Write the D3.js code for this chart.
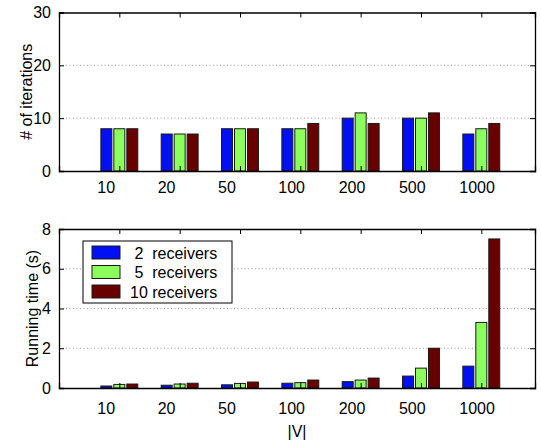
<!DOCTYPE html>
<html>
<head>
<meta charset="utf-8">
<script src="https://cdn.jsdelivr.net/npm/d3@7"></script>
<style>
  body { margin: 0; background: #fff; }
  svg { display: block; font-family: "Liberation Sans", Arial, sans-serif; }
</style>
</head>
<body>
<div id="chart"></div>
<script>
/* global d3 */

// |V| categories
const sizes = ["10", "20", "50", "100", "200", "500", "1000"];
const seriesNames = [" 2  receivers", " 5  receivers", "10 receivers"];

// # of iterations per receiver count
const iter2 = [8, 7, 8, 8, 10, 10, 7];
const iter5 = [8, 7, 8, 8, 11, 10, 8];
const iter10 = [8, 7, 8, 9, 9, 11, 9];

// running time (s) per receiver count
const time2 = [0.1, 0.14, 0.16, 0.24, 0.32, 0.6, 1.1];
const time5 = [0.18, 0.2, 0.23, 0.27, 0.4, 1.0, 3.3];
const time10 = [0.2, 0.24, 0.3, 0.4, 0.5, 2.0, 7.5];

const iterTicks = [0, 10, 20, 30];
const timeTicks = [0, 2, 4, 6, 8];

const colors = ["#0010f2", "#8cff5c", "#680000"];

const W = 541, H = 441;
const svg = d3.select("#chart").append("svg")
  .attr("width", W).attr("height", H);

function drawPanel(opts) {
  const { top, bottom, series, yTicks, yMax, yLabel, yLabelX, xLabelDy } = opts;
  const left = 59, right = 535;

  const x = d3.scaleLinear().domain([0, 7.89]).range([left, right]);
  const y = d3.scaleLinear().domain([0, yMax]).range([bottom, top]);
  const step = x(1) - x(0);
  const offset = 0.215, barW = 0.182;

  const g = svg.append("g");

  // dotted grid
  g.append("g").selectAll("line")
    .data(yTicks.filter(t => t > 0 && t < yMax))
    .join("line")
    .attr("x1", left).attr("x2", right)
    .attr("y1", d => y(d)).attr("y2", d => y(d))
    .attr("stroke", "#9a9a9a")
    .attr("stroke-width", 1)
    .attr("stroke-dasharray", "1,2.5");

  // bars
  series.forEach((vals, s) => {
    g.append("g").selectAll("rect")
      .data(vals)
      .join("rect")
      .attr("x", (d, i) => x(i + 1 + (s - 1) * offset - barW / 2))
      .attr("width", barW * step)
      .attr("y", d => y(d))
      .attr("height", d => y(0) - y(d))
      .attr("fill", colors[s])
      .attr("stroke", "#1a1a1a")
      .attr("stroke-width", 1);
  });

  // axes (ticks inward, on all four sides)
  const xTickVals = d3.range(1, sizes.length + 1);
  g.append("g")
    .attr("transform", `translate(0,${bottom})`)
    .call(d3.axisBottom(x).tickValues(xTickVals).tickSize(-5).tickFormat(""));
  g.append("g")
    .attr("transform", `translate(0,${top})`)
    .call(d3.axisTop(x).tickValues(xTickVals).tickSize(-5).tickFormat(""));
  g.append("g")
    .attr("transform", `translate(${left},0)`)
    .call(d3.axisLeft(y).tickValues(yTicks).tickSize(-5).tickPadding(8));
  g.append("g")
    .attr("transform", `translate(${right},0)`)
    .call(d3.axisRight(y).tickValues(yTicks).tickSize(-5).tickFormat(""));

  g.selectAll(".domain").attr("stroke", "#000").attr("stroke-width", 1.3);
  g.selectAll(".tick line").attr("stroke", "#000").attr("stroke-width", 1);
  g.selectAll(".tick text")
    .attr("fill", "#000")
    .style("font-size", "16px")
    .style("font-family", "'Liberation Sans', Arial, sans-serif");

  // category labels (left-aligned, shifted as in the original)
  g.append("g").selectAll("text")
    .data(sizes)
    .join("text")
    .attr("x", (d, i) => x(i + 1) - 22)
    .attr("y", bottom + xLabelDy)
    .attr("font-size", 16)
    .attr("fill", "#000")
    .text(d => d);

  // y label
  g.append("text")
    .attr("transform", `translate(${yLabelX},${(top + bottom) / 2}) rotate(-90)`)
    .attr("text-anchor", "middle")
    .attr("font-size", 16)
    .attr("fill", "#000")
    .text(yLabel);

  return { x, y };
}

drawPanel({
  top: 12.5, bottom: 171, yMax: 30,
  series: [iter2, iter5, iter10],
  yTicks: iterTicks,
  yLabel: "# of iterations",
  yLabelX: 32,
  xLabelDy: 22
});

drawPanel({
  top: 229, bottom: 388, yMax: 8,
  series: [time2, time5, time10],
  yTicks: timeTicks,
  yLabel: "Running time (s)",
  yLabelX: 38,
  xLabelDy: 26
});

// x label
svg.append("text")
  .attr("x", 297)
  .attr("y", 437)
  .attr("text-anchor", "middle")
  .attr("font-size", 16)
  .text("|V|");

// legend
const legend = svg.append("g").attr("transform", "translate(83,241)");
legend.append("rect")
  .attr("width", 149).attr("height", 62)
  .attr("fill", "#fff").attr("stroke", "#000").attr("stroke-width", 1);
seriesNames.forEach((name, i) => {
  const row = legend.append("g").attr("transform", `translate(0,${5 + i * 19.5})`);
  row.append("rect")
    .attr("x", 9).attr("width", 28).attr("height", 13)
    .attr("fill", colors[i]).attr("stroke", "#1a1a1a").attr("stroke-width", 1);
  row.append("text")
    .attr("x", 47).attr("y", 12.5)
    .attr("font-size", 16)
    .style("white-space", "pre")
    .attr("xml:space", "preserve")
    .text(name);
});
</script>
</body>
</html>
